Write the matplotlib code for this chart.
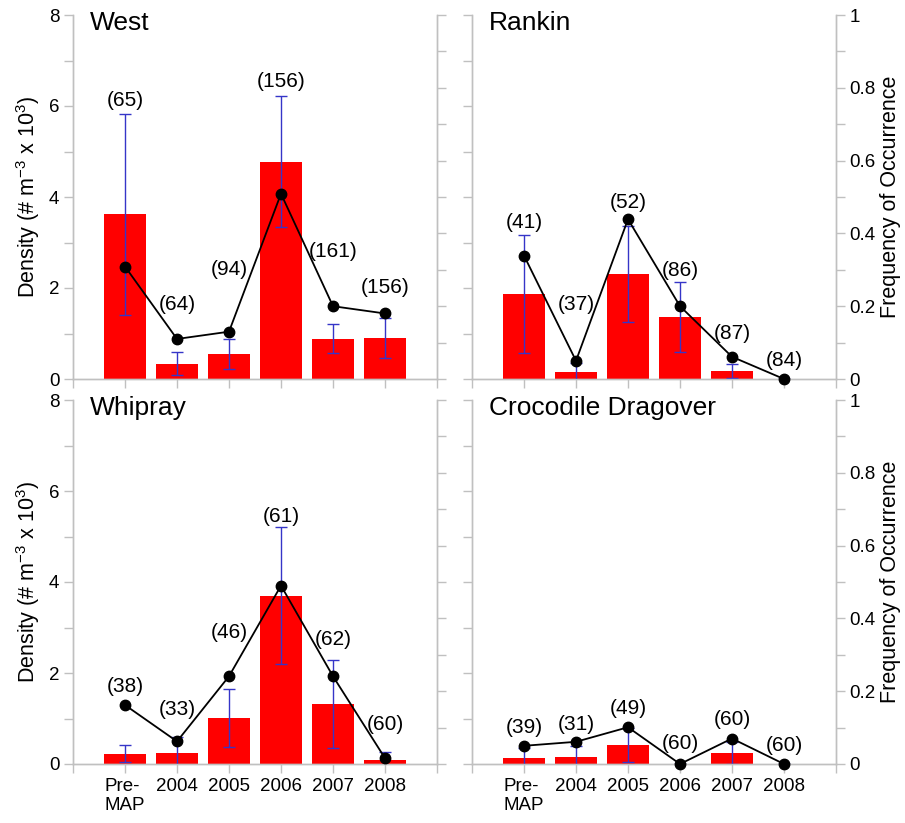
import numpy as np
import matplotlib
matplotlib.use("Agg")
from matplotlib import pyplot as plt
from matplotlib.ticker import MultipleLocator

plt.rcParams['font.family'] = ['Liberation Sans', 'DejaVu Sans']
plt.rcParams['mathtext.default'] = 'regular'

years = ["Pre-\nMAP", "2004", "2005", "2006", "2007", "2008"]
sites = ["West", "Rankin", "Whipray", "Crocodile Dragover"]

# mean density (# m^-3 x 10^3) and its standard error
density = {
    "West":               [3.62, 0.34, 0.55, 4.78, 0.89, 0.91],
    "Rankin":             [1.87, 0.15, 2.31, 1.37, 0.18, 0.00],
    "Whipray":            [0.23, 0.24, 1.01, 3.70, 1.32, 0.095],
    "Crocodile Dragover": [0.13, 0.16, 0.42, 0.00, 0.24, 0.00],
}
density_se = {
    "West":               [2.21, 0.25, 0.34, 1.44, 0.32, 0.44],
    "Rankin":             [1.29, 0.20, 1.05, 0.77, 0.16, 0.00],
    "Whipray":            [0.19, 0.35, 0.63, 1.50, 0.96, 0.165],
    "Crocodile Dragover": [0.22, 0.23, 0.38, 0.00, 0.24, 0.00],
}
# frequency of occurrence
freq = {
    "West":               [0.309, 0.110, 0.130, 0.509, 0.200, 0.180],
    "Rankin":             [0.339, 0.050, 0.439, 0.200, 0.061, 0.000],
    "Whipray":            [0.162, 0.062, 0.241, 0.490, 0.241, 0.016],
    "Crocodile Dragover": [0.050, 0.061, 0.101, 0.000, 0.070, 0.000],
}
# number of samples
n_samples = {
    "West":               [65, 64, 94, 156, 161, 156],
    "Rankin":             [41, 37, 52, 86, 87, 84],
    "Whipray":            [38, 33, 46, 61, 62, 60],
    "Crocodile Dragover": [39, 31, 49, 60, 60, 60],
}

# height (density units) of the sample-size labels
label_y = {
    "West":               [6.13, 1.63, 2.41, 6.53, 2.80, 2.01],
    "Rankin":             [3.44, 1.63, 3.88, 2.38, 1.00, 0.40],
    "Whipray":            [1.71, 1.19, 2.90, 5.44, 2.73, 0.86],
    "Crocodile Dragover": [0.81, 0.86, 1.23, 0.46, 0.97, 0.40],
}

W, H = 905, 823
gray = '#c0c0c0'
tick_len = 6.8
fs_tick = 13.5
fs_n = 15
fs_lab = 15.5

fig = plt.figure(figsize=(W / 100, H / 100), dpi=100)

boxes = [(73, 15), (472, 15), (73, 400), (472, 400)]
pw, ph = 364, 364

x = np.arange(len(years))

for k, site in enumerate(sites):
    px, py = boxes[k]
    ax = fig.add_axes([px / W, 1 - (py + ph) / H, pw / W, ph / H])
    ax2 = ax.twinx()

    ax.bar(x, density[site], width=0.8, color='#ff0000', zorder=2)
    ax.errorbar(x, density[site], yerr=density_se[site], fmt='none',
                ecolor='#3535c8', elinewidth=1.0, capsize=4, capthick=1.0,
                zorder=3)
    ax2.plot(x, freq[site], '-o', color='black', lw=1.3, ms=7.5, zorder=4,
             clip_on=False)

    for i, n in enumerate(n_samples[site]):
        ax.text(x[i], label_y[site][i], "(%d)" % n, ha='center', va='center',
                fontsize=fs_n, zorder=5)

    ax.set_xlim(-1, 6)
    ax.set_ylim(0, 8)
    ax2.set_ylim(0, 1)

    ax.set_xticks(np.arange(-1, 7))
    ax.yaxis.set_major_locator(MultipleLocator(2))
    ax.yaxis.set_minor_locator(MultipleLocator(1))
    ax2.yaxis.set_major_locator(MultipleLocator(0.2))
    ax2.yaxis.set_minor_locator(MultipleLocator(0.1))

    for a in (ax, ax2):
        a.patch.set_visible(False)
        a.spines['top'].set_visible(False)
        for s in ('left', 'right', 'bottom'):
            a.spines[s].set_color(gray)
            a.spines[s].set_linewidth(1.0)
        a.tick_params(which='both', direction='out', length=tick_len,
                      color=gray, width=1.0, labelsize=fs_tick, pad=3)

    # bottom row carries the year labels
    if k >= 2:
        ax.set_xticklabels([""] + years + [""])
        for lab in ax.get_xticklabels():
            lab.set_multialignment('left')
    else:
        ax.set_xticklabels([])

    if k % 2 == 0:
        ax.set_ylabel("Density (# m$^{-3}$ x 10$^{3}$)", fontsize=fs_lab,
                      labelpad=5)
        ax2.set_yticklabels([])
    else:
        ax.set_yticklabels([])
        ax2.set_ylabel("Frequency of Occurrence", fontsize=fs_lab, labelpad=3)
        ax2.set_yticks([0, 0.2, 0.4, 0.6, 0.8, 1.0])
        ax2.set_yticklabels(["0", "0.2", "0.4", "0.6", "0.8", "1"])

    ax.text(0.047, 1.01, site, transform=ax.transAxes, ha='left', va='top',
            fontsize=19)

fig.savefig("out.png", dpi=100)
